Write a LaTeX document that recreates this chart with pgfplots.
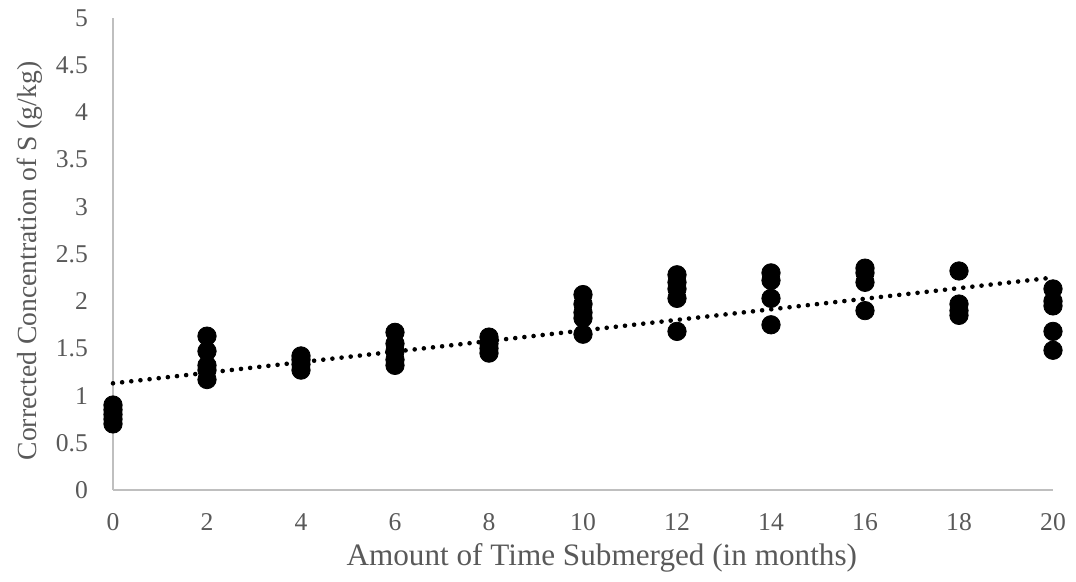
\documentclass[border=0pt]{standalone}
\usepackage{pgfplots}
\pgfplotsset{compat=1.18}
\usepackage{fontspec}
\setmainfont{Liberation Serif}
\definecolor{txt}{HTML}{595959}
\definecolor{axl}{HTML}{BFBFBF}
\begin{document}
\begin{tikzpicture}
\path[use as bounding box] (-56.5pt,-46pt) rectangle (481.5pt,245pt);
\begin{axis}[
  at={(0,0)}, anchor=origin,
  scale only axis, width=470pt, height=236pt,
  xmin=0, xmax=20, ymin=0, ymax=5,
  axis lines*=left,
  axis line style={axl, line width=0.6pt},
  xtick={0,2,...,20}, ytick={0,0.5,...,5},
  major tick length=0pt,
  /pgf/number format/assume math mode=true,
  /pgf/number format/fixed,
  /pgf/number format/precision=1,
  tick label style={font=\fontsize{12.8}{14}\selectfont, color=txt},
  xticklabel style={anchor=center, yshift=-16pt},
  yticklabel style={anchor=east, xshift=-9pt},
  xlabel={Amount of Time Submerged (in months)},
  ylabel={Corrected Concentration of S (g/kg)},
  xlabel style={font=\fontsize{15.6}{17}\selectfont, color=txt, at={(axis description cs:0.52,-0.143)}, anchor=center},
  ylabel style={font=\fontsize{13.8}{16}\selectfont, color=txt, at={(axis description cs:-0.0883,0.485)}, anchor=center},
  clip=false,
]
\addplot[only marks, mark=*, mark size=4.6pt, mark options={fill=black, draw=black}] coordinates {
(0,0.70) (0,0.75) (0,0.80) (0,0.85) (0,0.90)
(2,1.63) (2,1.47) (2,1.32) (2,1.27) (2,1.17)
(4,1.42) (4,1.38) (4,1.33) (4,1.27)
(6,1.67) (6,1.55) (6,1.47) (6,1.38) (6,1.32)
(8,1.62) (8,1.55) (8,1.50) (8,1.45)
(10,2.07) (10,1.97) (10,1.88) (10,1.82) (10,1.65)
(12,2.28) (12,2.20) (12,2.13) (12,2.03) (12,1.68)
(14,2.30) (14,2.22) (14,2.03) (14,1.75)
(16,2.35) (16,2.30) (16,2.20) (16,1.90)
(18,2.32) (18,1.97) (18,1.90) (18,1.85)
(20,2.13) (20,2.00) (20,1.95) (20,1.68) (20,1.48)
};
\addplot[black, line width=2.3pt, line cap=round, dash pattern=on 0pt off 4.6pt] coordinates {(0,1.13) (20,2.25)};
\end{axis}
\end{tikzpicture}
\end{document}
